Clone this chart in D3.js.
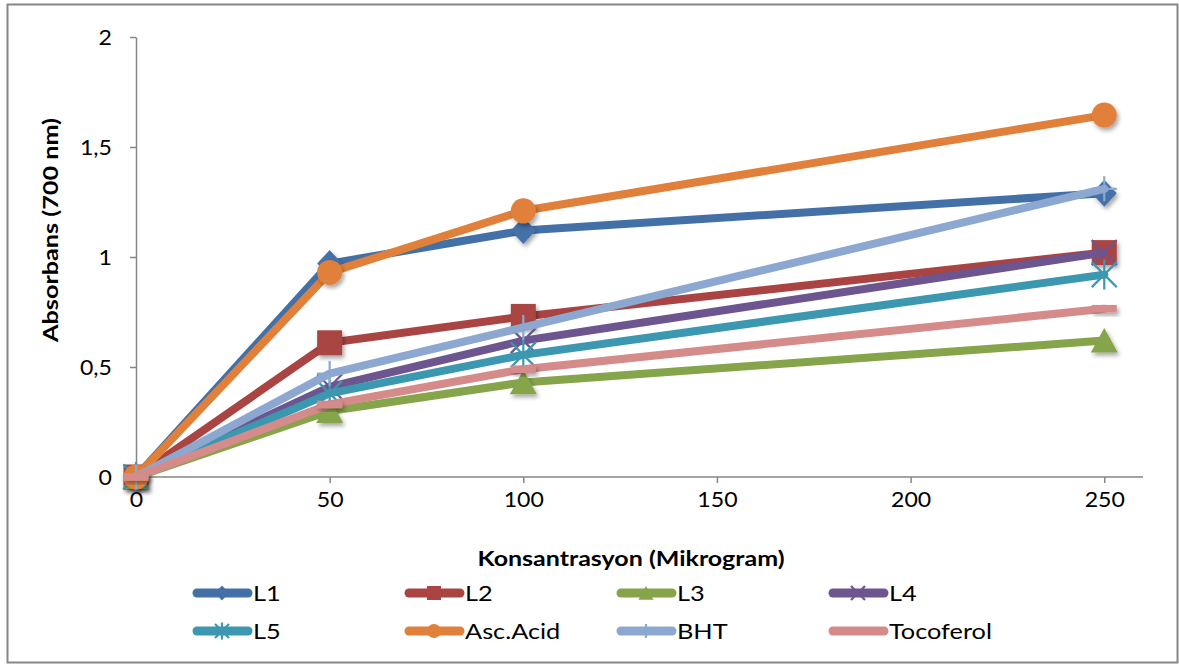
<!DOCTYPE html>
<html>
<head>
<meta charset="utf-8">
<script src="https://cdn.jsdelivr.net/npm/d3@7"></script>
<style>
  body { margin: 0; background: #fff; }
  text { font-family: Lato, "Open Sans", sans-serif; fill: #000; }
</style>
</head>
<body>
<div id="chart"></div>
<script>
// data
const xValues = [0, 50, 100, 250];
const L1 = [0, 0.97, 1.12, 1.29];
const L2 = [0, 0.61, 0.73, 1.02];
const L3 = [0, 0.30, 0.43, 0.62];
const L4 = [0, 0.41, 0.62, 1.02];
const L5 = [0, 0.38, 0.555, 0.92];
const ascAcid = [0, 0.93, 1.21, 1.645];
const BHT = [0, 0.47, 0.68, 1.31];
const tocoferol = [0, 0.33, 0.49, 0.765];

const seriesNames = ["L1", "L2", "L3", "L4", "L5", "Asc.Acid", "BHT", "Tocoferol"];
const seriesValues = [L1, L2, L3, L4, L5, ascAcid, BHT, tocoferol];
const seriesColors = ["#4470a8", "#a94442", "#86a44a", "#6d5590", "#3c98b0", "#e0803a", "#8ca8d0", "#d48b89"];
const seriesMarkers = ["diamond", "square", "triangle", "x", "star", "circle", "plus", "dash"];

const xTicks = [0, 50, 100, 150, 200, 250];
const yTicks = [0, 0.5, 1, 1.5, 2];

const width = 1179, height = 664;

const svg = d3.select("#chart").append("svg")
    .attr("width", width)
    .attr("height", height);

// widen text a little, the original font runs wider than Lato
function stretch(sel, k) {
    sel.each(function () {
        const w = this.getComputedTextLength();
        d3.select(this).attr("textLength", w * k).attr("lengthAdjust", "spacingAndGlyphs");
    });
}

const defs = svg.append("defs");
defs.append("filter")
    .attr("id", "shadow")
    .attr("x", "-50%").attr("y", "-50%")
    .attr("width", "200%").attr("height", "200%")
  .append("feDropShadow")
    .attr("dx", 2).attr("dy", 3)
    .attr("stdDeviation", 2)
    .attr("flood-color", "#000")
    .attr("flood-opacity", 0.35);

// outer border
svg.append("rect")
    .attr("x", 7.5).attr("y", 4.5)
    .attr("width", 1170).attr("height", 658)
    .attr("fill", "#fff")
    .attr("stroke", "#868686")
    .attr("stroke-width", 2);

const x = d3.scaleLinear().domain([0, 260]).range([136, 1143]);
const y = d3.scaleLinear().domain([0, 2]).range([477, 37]);

const fmt = d => String(d).replace(".", ",");

// axes
const xAxis = svg.append("g")
    .attr("transform", `translate(0,${y(0)})`)
    .call(d3.axisBottom(x).tickValues(xTicks).tickSize(6).tickSizeOuter(0).tickPadding(8));
const yAxis = svg.append("g")
    .attr("transform", `translate(${x(0)},0)`)
    .call(d3.axisLeft(y).tickValues(yTicks).tickSize(6).tickSizeOuter(0).tickPadding(18).tickFormat(fmt));

[xAxis, yAxis].forEach(g => {
    g.select(".domain").attr("stroke", "#868686").attr("stroke-width", 1.5);
    g.selectAll(".tick line").attr("stroke", "#868686").attr("stroke-width", 1.5);
    g.selectAll(".tick text").attr("font-size", 22).attr("font-family", "Lato, sans-serif").attr("fill", "#000");
});
xAxis.select(".domain").attr("d", `M${x(0)},0H${x(260)}`);
stretch(xAxis.selectAll(".tick text"), 1.05);
stretch(yAxis.selectAll(".tick text"), 1.05);

// axis titles
svg.append("text")
    .attr("x", 631).attr("y", 566)
    .attr("text-anchor", "middle")
    .attr("font-size", 21)
    .attr("font-weight", "bold")
    .text("Konsantrasyon (Mikrogram)")
    .call(stretch, 1.19);

svg.append("text")
    .attr("transform", "translate(58,230) rotate(-90)")
    .attr("text-anchor", "middle")
    .attr("font-size", 21)
    .attr("font-weight", "bold")
    .text("Absorbans (700 nm)")
    .call(stretch, 1.2);

// marker shapes (path relative to centre, s = half size)
function markerPath(type, s) {
    switch (type) {
        case "diamond": return `M0,${-s * 1.08}L${s},0L0,${s * 1.08}L${-s},0Z`;
        case "square": return `M${-s},${-s}H${s}V${s}H${-s}Z`;
        case "triangle": return `M0,${-s}L${s * 1.08},${s * 0.95}H${-s * 1.08}Z`;
        case "x": return `M${-s},${-s}L${s},${s}M${s},${-s}L${-s},${s}`;
        case "star": return `M${-s},${-s}L${s},${s}M${s},${-s}L${-s},${s}M0,${-s * 1.2}V${s * 1.2}`;
        case "plus": return `M${-s},0H${s}M0,${-s}V${s}`;
        case "dash": return `M${-s},${-s * 0.3}H${s}V${s * 0.3}H${-s}Z`;
    }
}
const strokedMarkers = ["x", "star", "plus"];

function drawMarker(g, type, color, cx, cy, s, shadow) {
    if (type === "circle") {
        const c = g.append("circle").attr("cx", cx).attr("cy", cy).attr("r", s).attr("fill", color);
        if (shadow) c.attr("filter", "url(#shadow)");
        return;
    }
    const p = g.append("path")
        .attr("transform", `translate(${cx},${cy})`)
        .attr("d", markerPath(type, s));
    if (strokedMarkers.includes(type)) {
        p.attr("fill", "none").attr("stroke", color).attr("stroke-width", 2.2);
    } else {
        p.attr("fill", color);
        if (shadow) p.attr("filter", "url(#shadow)");
    }
}

const line = d3.line()
    .x((d, i) => x(xValues[i]))
    .y(d => y(d));

const plot = svg.append("g");
seriesValues.forEach((vals, k) => {
    const g = plot.append("g");
    g.append("path")
        .datum(vals)
        .attr("d", line)
        .attr("fill", "none")
        .attr("stroke", seriesColors[k])
        .attr("stroke-width", 8)
        .attr("stroke-linejoin", "round")
        .attr("stroke-linecap", "round");
    vals.forEach((v, i) => {
        drawMarker(g, seriesMarkers[k], seriesColors[k], x(xValues[i]), y(v), 12.5, true);
    });
});

// legend
const legendCols = [193, 405, 617, 829];
const legendRows = [593, 631];
seriesNames.forEach((name, k) => {
    const lx = legendCols[k % 4], ly = legendRows[Math.floor(k / 4)];
    const g = svg.append("g");
    g.append("line")
        .attr("x1", lx + 4).attr("x2", lx + 55)
        .attr("y1", ly).attr("y2", ly)
        .attr("stroke", seriesColors[k])
        .attr("stroke-width", 9)
        .attr("stroke-linecap", "round");
    if (seriesMarkers[k] !== "dash") {
        drawMarker(g, seriesMarkers[k], seriesColors[k], lx + 29, ly, 7, false);
    }
    g.append("text")
        .attr("x", lx + 60).attr("y", ly + 8)
        .attr("font-size", 22)
        .text(name)
        .call(stretch, 1.15);
});
</script>
</body>
</html>
